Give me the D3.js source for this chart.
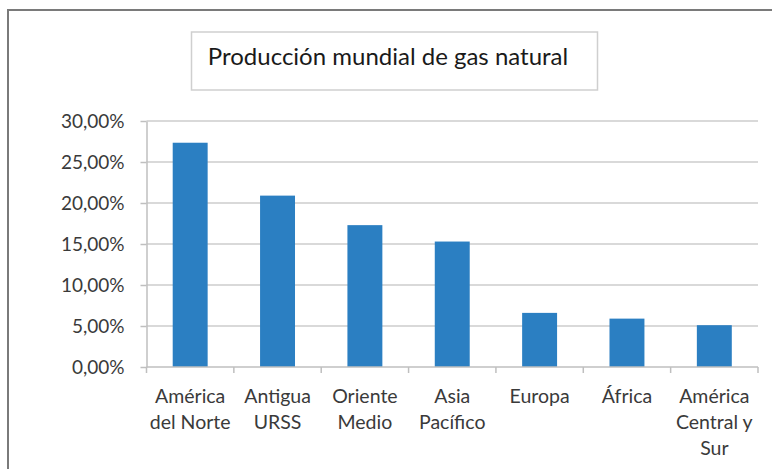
<!DOCTYPE html>
<html><head><meta charset="utf-8">
<script src="https://cdn.jsdelivr.net/npm/d3@7"></script>
<style>
html,body{margin:0;padding:0;background:#fff;}
svg{display:block;}
text{font-family:Lato,"Open Sans",sans-serif;}
</style></head>
<body>
<svg id="chart" width="772" height="469"></svg>
<script>
const categories = [["América","del Norte"],["Antigua","URSS"],["Oriente","Medio"],["Asia","Pacífico"],["Europa"],["África"],["América","Central y","Sur"]];
const values = [27.35, 20.9, 17.3, 15.3, 6.6, 5.9, 5.1];
const tickValues = [0,5,10,15,20,25,30];
const tickLabels = ["0,00%","5,00%","10,00%","15,00%","20,00%","25,00%","30,00%"];
const title = "Producción mundial de gas natural";

const svg = d3.select("#chart");
// outer frame
svg.append("rect").attr("x",8).attr("y",10).attr("width",800).attr("height",500)
  .attr("fill","#fff").attr("stroke","#7a7a7a").attr("stroke-width",2);

// title box
svg.append("rect").attr("x",191.5).attr("y",32).attr("width",406).attr("height",58)
  .attr("fill","#fff").attr("stroke","#cfcfcf").attr("stroke-width",1.5);
svg.append("text").attr("x",388).attr("y",65).attr("text-anchor","middle")
  .attr("font-size",24).attr("fill","#1a1a1a").text(title);

const pLeft = 146.5, pRight = 758, pTop = 121, pBottom = 367;
const x = d3.scaleBand().domain(d3.range(categories.length)).range([pLeft,pRight]).paddingInner(0.6).paddingOuter(0.3);
const xb = d3.scaleBand().domain(d3.range(categories.length)).range([pLeft,pRight]);
const y = d3.scaleLinear().domain([0,30]).range([pBottom,pTop]);

// gridlines
svg.append("g").selectAll("line").data(tickValues.filter(v=>v>0)).join("line")
  .attr("x1",pLeft).attr("x2",pRight).attr("y1",d=>y(d)).attr("y2",d=>y(d))
  .attr("stroke","#d9d9d9").attr("stroke-width",2);

// y axis
const yAxis = svg.append("g").attr("transform",`translate(${pLeft},0)`)
  .call(d3.axisLeft(y).tickValues(tickValues).tickFormat((d,i)=>tickLabels[i]).tickSizeInner(6).tickSizeOuter(0).tickPadding(16));
yAxis.select(".domain").attr("stroke","#bfbfbf").attr("stroke-width",1.5);
yAxis.selectAll(".tick line").attr("stroke","#bfbfbf").attr("stroke-width",1.5);
yAxis.selectAll("text").attr("font-size",19).attr("fill","#3a3a3a").attr("font-family","Lato,sans-serif");

// bars
svg.append("g").selectAll("rect").data(values).join("rect")
  .attr("x",(d,i)=>x(i)).attr("width",x.bandwidth())
  .attr("y",d=>y(d)).attr("height",d=>pBottom-y(d))
  .attr("fill","#2b7fc2");

// x axis
svg.append("line").attr("x1",pLeft).attr("x2",pRight).attr("y1",pBottom).attr("y2",pBottom)
  .attr("stroke","#bfbfbf").attr("stroke-width",1.5);
svg.append("g").selectAll("line").data(d3.range(categories.length+1)).join("line")
  .attr("x1",i=>i<categories.length?xb(i):pRight).attr("x2",i=>i<categories.length?xb(i):pRight)
  .attr("y1",pBottom).attr("y2",pBottom+6).attr("stroke","#bfbfbf").attr("stroke-width",1.5);

const lab = svg.append("g").selectAll("text").data(categories).join("text")
  .attr("text-anchor","middle").attr("font-size",19.5).attr("fill","#3a3a3a")
  .attr("transform",(d,i)=>`translate(${xb(i)+xb.bandwidth()/2},403)`);
lab.selectAll("tspan").data(d=>d).join("tspan")
  .attr("x",0).attr("y",(d,j)=>j*26).text(d=>d);
</script>
</body></html>
